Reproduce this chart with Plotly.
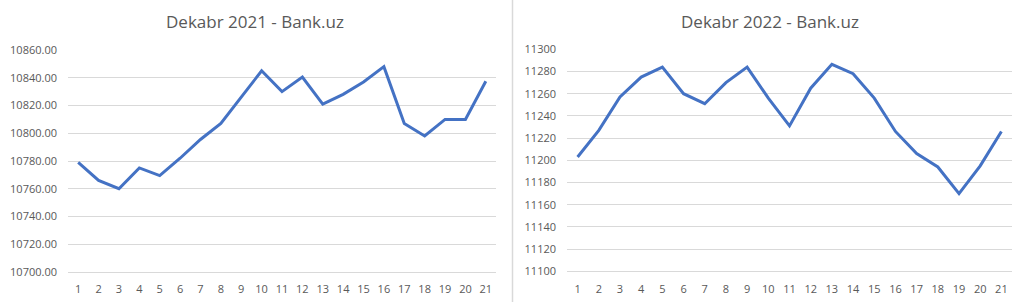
import plotly.graph_objects as go

days = list(range(1, 22))
rates_2021 = [10779, 10766, 10760, 10775, 10769.5, 10782, 10795.5, 10807, 10826, 10845,
              10830, 10840.5, 10821, 10828, 10837, 10848, 10807, 10798, 10810, 10810, 10837.5]
rates_2022 = [11203, 11227, 11257, 11275, 11284, 11260, 11251, 11270, 11284, 11256,
              11231, 11265, 11286.5, 11278, 11256, 11226, 11206, 11194, 11170, 11195, 11226]
title_2021 = "Dekabr 2021 - Bank.uz"
title_2022 = "Dekabr 2022 - Bank.uz"
yticks_2021 = [10700, 10720, 10740, 10760, 10780, 10800, 10820, 10840, 10860]
yticks_2022 = [11100, 11120, 11140, 11160, 11180, 11200, 11220, 11240, 11260, 11280, 11300]

W, H = 1024, 302
LINE = "#4472C4"
GRID = "#d9d9d9"
TXT = "#595959"
FONT = "Open Sans"

fig = go.Figure()
fig.add_trace(go.Scatter(x=days, y=rates_2021, mode="lines", line=dict(color=LINE, width=3),
                         xaxis="x", yaxis="y", showlegend=False))
fig.add_trace(go.Scatter(x=days, y=rates_2022, mode="lines", line=dict(color=LINE, width=3),
                         xaxis="x2", yaxis="y2", showlegend=False))

def xax(dom, anchor):
    return dict(domain=dom, anchor=anchor, range=[0.5, 21.5], tickmode="array", tickvals=days,
                ticktext=[str(d) for d in days], showgrid=False, zeroline=False,
                showline=True, linecolor=GRID, linewidth=1, ticks="", automargin=False,
                tickfont=dict(family=FONT, size=11, color=TXT), ticklabelstandoff=7,
                fixedrange=True)

def yax(dom, anchor, rng, vals, fmt):
    return dict(domain=dom, anchor=anchor, range=rng, tickmode="array", tickvals=vals,
                ticktext=[fmt.format(v) for v in vals], showgrid=True, gridcolor=GRID,
                gridwidth=1, zeroline=False, showline=False, ticks="", automargin=False,
                tickfont=dict(family=FONT, size=11, color=TXT), ticklabelstandoff=10,
                fixedrange=True)

fig.update_layout(
    template="none",
    width=W, height=H, margin=dict(l=0, r=0, t=0, b=0, autoexpand=False),
    paper_bgcolor="white", plot_bgcolor="white",
    xaxis=xax([68 / W, 496 / W], "y"),
    yaxis=yax([30 / H, 252 / H], "x", [10700, 10860], yticks_2021, "{:.2f}"),
    xaxis2=xax([567 / W, 1012 / W], "y2"),
    yaxis2=yax([30.7 / H, 252.7 / H], "x2", [11100, 11300], yticks_2022, "{:d}"),
    annotations=[
        dict(text=title_2021, x=255 / W, y=1 - 21 / H, xref="paper", yref="paper",
             showarrow=False, xanchor="center", yanchor="middle",
             font=dict(family=FONT, size=17, color=TXT)),
        dict(text=title_2022, x=770 / W, y=1 - 21 / H, xref="paper", yref="paper",
             showarrow=False, xanchor="center", yanchor="middle",
             font=dict(family=FONT, size=17, color=TXT)),
    ],
    shapes=[dict(type="line", xref="paper", yref="paper", x0=512.5 / W, x1=512.5 / W,
                 y0=0, y1=1, line=dict(color=GRID, width=1.5))],
)

fig.write_html("out.html", config={"displayModeBar": False})
